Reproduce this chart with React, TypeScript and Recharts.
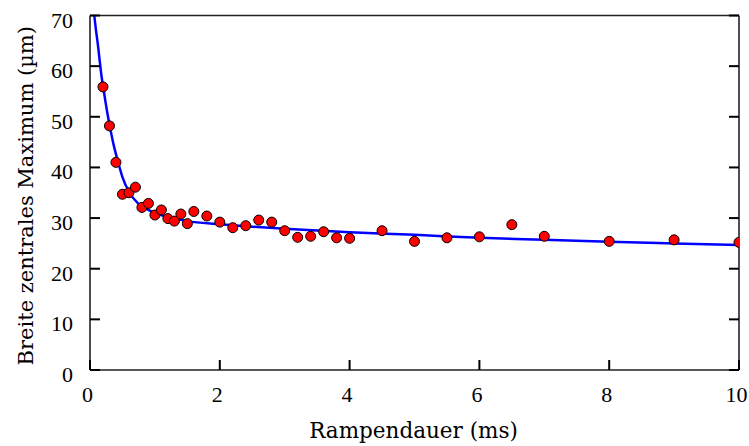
import React from 'react';
import { ComposedChart, Line, Scatter, XAxis, YAxis, Label } from 'recharts';

const rampDuration = [0.2, 0.3, 0.4, 0.5, 0.6, 0.7, 0.8, 0.9, 1.0, 1.1, 1.2, 1.3, 1.4, 1.5, 1.6, 1.8, 2.0, 2.2, 2.4, 2.6, 2.8, 3.0, 3.2, 3.4, 3.6, 3.8, 4.0, 4.5, 5.0, 5.5, 6.0, 6.5, 7.0, 8.0, 9.0, 10.0];
const centralWidth = [55.9, 48.2, 41.0, 34.7, 35.0, 36.1, 32.1, 32.9, 30.6, 31.6, 29.9, 29.4, 30.8, 28.9, 31.3, 30.4, 29.2, 28.1, 28.5, 29.6, 29.2, 27.5, 26.2, 26.4, 27.3, 26.1, 26.0, 27.5, 25.4, 26.1, 26.3, 28.7, 26.4, 25.4, 25.7, 25.2];

const fitDuration = [0.066, 0.09, 0.12, 0.15, 0.18, 0.22, 0.26, 0.3, 0.36, 0.43, 0.5, 0.6, 0.74, 0.87, 1.0, 1.25, 1.5, 2.0, 2.5, 3.0, 4.0, 5.0, 6.0, 7.0, 8.0, 9.0, 10.0];
const fitWidth = [70, 67.3, 64.4, 61, 57.8, 54.5, 51.3, 48.5, 44.7, 41.2, 38.1, 35.2, 32.9, 31.8, 31.0, 30.1, 29.4, 28.8, 28.3, 27.9, 27.2, 26.7, 26.1, 25.7, 25.3, 25.0, 24.7];

const xTicks = [0, 2, 4, 6, 8, 10];
const yTicks = [0, 10, 20, 30, 40, 50, 60, 70];
const xTitle = 'Rampendauer (ms)';
const yTitle = 'Breite zentrales Maximum (µm)';

const measured = rampDuration.map((x, i) => ({ x, y: centralWidth[i] }));
const fit = fitDuration.map((x, i) => ({ x, fit: fitWidth[i] }));

const TITLE_FONT = '"DejaVu Serif", serif';
const TICK_FONT = '"Liberation Serif", serif';
const AXIS = '#222';
const TICK_COLOR = '#000';
const TICK_W = 2;
const TICK_LEN = 10;
const X_MARGIN = 16;
const Y_MARGIN = 16;

const renderXTick = (props: any) => {
  const { x, y, payload } = props;
  const axisY = y - X_MARGIN;
  return (
    <g key={`xt-${payload.value}`}>
      <path d={`M${x},${axisY}V${axisY - TICK_LEN}`} stroke={TICK_COLOR} strokeWidth={TICK_W} fill="none" />
      <text x={x - 2.5} y={axisY + 31.5} textAnchor="middle" fontFamily={TICK_FONT} fontSize={22} fill="#000">
        {payload.value}
      </text>
    </g>
  );
};

const renderYTick = (props: any) => {
  const { x, y, payload } = props;
  const axisX = x + Y_MARGIN;
  return (
    <g key={`yt-${payload.value}`}>
      <path d={`M${axisX},${y}H${axisX + TICK_LEN}`} stroke={TICK_COLOR} strokeWidth={TICK_W} fill="none" />
      <text x={axisX - 17} y={y + 12} textAnchor="end" fontFamily={TICK_FONT} fontSize={22} fill="#000">
        {payload.value}
      </text>
    </g>
  );
};

const renderTopTick = (props: any) => {
  const { x, y, payload } = props;
  const axisY = y + X_MARGIN;
  return <path key={`tt-${payload.value}`} d={`M${x},${axisY}V${axisY + TICK_LEN}`} stroke={TICK_COLOR} strokeWidth={TICK_W} fill="none" />;
};

const renderRightTick = (props: any) => {
  const { x, y, payload } = props;
  const axisX = x - Y_MARGIN;
  return <path key={`rt-${payload.value}`} d={`M${axisX},${y}H${axisX - TICK_LEN}`} stroke={TICK_COLOR} strokeWidth={TICK_W} fill="none" />;
};

const XTitle = (props: any) => {
  const vb = props.viewBox || { x: 0, y: 0, width: 0, height: 0 };
  return (
    <text x={vb.x + vb.width / 2 - 1} y={vb.y + 68} textAnchor="middle" fontFamily={TITLE_FONT} fontSize={21.5} fill="#000">
      {xTitle}
    </text>
  );
};

const YTitle = (props: any) => {
  const vb = props.viewBox || { x: 0, y: 0, width: 0, height: 0 };
  const cx = vb.x + 33;
  const cy = vb.y + vb.height / 2 + 3;
  return (
    <text x={0} y={0} transform={`translate(${cx}, ${cy}) rotate(-90)`} textAnchor="middle" fontFamily={TITLE_FONT} fontSize={21} fill="#000">
      {yTitle}
    </text>
  );
};

const Dot = (props: any) => (
  <circle cx={props.cx} cy={props.cy} r={5} fill="#ff0000" stroke="#000" strokeWidth={1} />
);

export default function App() {
  return (
    <div style={{ position: 'absolute', left: 0, top: 0, background: '#fff' }}>
      <ComposedChart width={749} height={446} margin={{ top: 14.5, right: 9, bottom: 0, left: 0 }}>
        <XAxis
          dataKey="x"
          type="number"
          domain={[0, 10]}
          ticks={xTicks}
          allowDataOverflow
          interval={0}
          orientation="bottom"
          height={76}
          tickSize={0}
          tickMargin={X_MARGIN}
          tickLine={false}
          stroke={AXIS}
          axisLine={{ stroke: AXIS, strokeWidth: 1.6 }}
          tick={renderXTick}
        >
          <Label content={<XTitle />} />
        </XAxis>
        <XAxis
          xAxisId="top"
          type="number"
          domain={[0, 10]}
          ticks={xTicks}
          allowDataOverflow
          interval={0}
          orientation="top"
          height={1}
          tickSize={0}
          tickMargin={X_MARGIN}
          tickLine={false}
          tick={renderTopTick}
          stroke={AXIS}
          axisLine={{ stroke: AXIS, strokeWidth: 1.6 }}
        />
        <YAxis
          type="number"
          domain={[0, 70]}
          ticks={yTicks}
          allowDataOverflow
          interval={0}
          width={90}
          tickSize={0}
          tickMargin={Y_MARGIN}
          tickLine={false}
          stroke={AXIS}
          axisLine={{ stroke: AXIS, strokeWidth: 1.6 }}
          tick={renderYTick}
        >
          <Label content={<YTitle />} />
        </YAxis>
        <YAxis
          yAxisId="right"
          type="number"
          domain={[0, 70]}
          ticks={yTicks}
          allowDataOverflow
          interval={0}
          orientation="right"
          width={1}
          tickSize={0}
          tickMargin={Y_MARGIN}
          tickLine={false}
          tick={renderRightTick}
          stroke={AXIS}
          axisLine={{ stroke: AXIS, strokeWidth: 1.6 }}
        />
        <Line
          data={fit}
          dataKey="fit"
          type="monotone"
          stroke="#0000ff"
          strokeWidth={2.5}
          dot={false}
          activeDot={false}
          isAnimationActive={false}
        />
        <Scatter data={measured} dataKey="y" shape={<Dot />} isAnimationActive={false} />
      </ComposedChart>
    </div>
  );
}
